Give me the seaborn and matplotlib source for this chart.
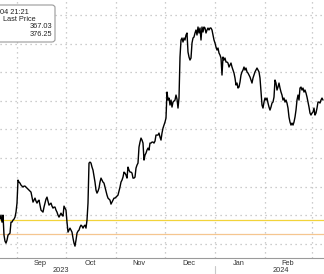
import matplotlib
matplotlib.use("Agg")
import matplotlib.pyplot as plt
import matplotlib.dates as mdates
from matplotlib.patches import FancyBboxPatch
import matplotlib.transforms as mtransforms
import numpy as np
import pandas as pd
import seaborn as sns

# ---- data ----
start_time = "2023-08-21 07:00"
step = "890min"
price = [
    377.2, 380.0, 375.1, 380.0, 366.0, 361.8, 360.4, 362.5, 366.0, 366.7,
    367.4, 375.1, 375.1, 376.5, 377.2, 378.6, 382.1, 388.4, 404.5, 403.1,
    402.4, 401.0, 400.3, 399.6, 400.3, 400.3, 399.6, 398.9, 398.2, 397.5,
    396.8, 396.1, 392.6, 389.1, 390.5, 391.9, 389.8, 388.4, 389.8, 390.5,
    387.0, 383.5, 382.8, 382.1, 385.6, 388.4, 391.2, 392.6, 389.8, 387.0,
    387.7, 388.4, 386.3, 384.9, 385.6, 385.6, 383.5, 382.1, 380.0, 378.6,
    380.0, 381.4, 380.0, 379.3, 386.3, 384.9, 383.5, 375.1, 368.1, 369.5,
    370.9, 369.5, 368.1, 363.9, 360.4, 358.3, 362.5, 367.4, 368.8, 369.5,
    371.6, 373.0, 372.3, 370.9, 372.3, 373.0, 370.9, 376.5, 388.4, 416.4,
    417.1, 416.4, 413.6, 411.5, 407.3, 403.1, 397.5, 395.4, 396.8, 398.9,
    403.1, 405.9, 404.5, 403.1, 402.4, 399.6, 396.8, 394.0, 391.9, 391.2,
    390.5, 387.7, 389.1, 390.5, 391.9, 391.9, 392.6, 393.3, 394.0, 396.8,
    399.6, 403.1, 404.5, 406.6, 410.1, 409.4, 408.0, 405.9, 413.6, 411.5,
    410.1, 410.1, 409.4, 405.9, 405.9, 406.6, 412.9, 415.0, 416.4, 427.6,
    431.1, 433.9, 432.5, 430.4, 418.5, 422.0, 423.4, 425.5, 426.9, 425.5,
    430.4, 430.4, 431.1, 431.1, 430.4, 431.8, 436.0, 436.0, 436.0, 437.4,
    434.6, 432.5, 437.4, 440.9, 443.0, 445.1, 447.9, 466.1, 460.5, 461.9,
    457.0, 460.5, 455.6, 459.1, 459.8, 460.5, 464.0, 461.2, 454.9, 461.9,
    490.6, 502.5, 503.9, 501.1, 503.9, 502.5, 506.0, 507.4, 494.1, 490.6,
    488.5, 489.9, 500.4, 503.9, 504.6, 507.4, 509.5, 506.0, 511.6, 507.4,
    510.9, 502.5, 511.6, 508.1, 511.6, 510.9, 507.4, 509.5, 510.9, 509.5,
    510.9, 510.9, 509.5, 506.0, 502.5, 500.4, 497.6, 495.5, 496.9, 493.4,
    492.0, 489.9, 478.0, 490.6, 488.5, 489.9, 487.1, 487.1, 486.4, 483.6,
    485.0, 486.4, 483.6, 481.5, 479.4, 475.9, 471.0, 472.4, 468.9, 469.6,
    473.1, 478.0, 480.2, 481.5, 483.6, 481.5, 482.9, 480.2, 479.4, 478.0,
    476.6, 474.5, 472.4, 475.9, 478.0, 480.2, 481.5, 482.9, 481.5, 480.2,
    475.9, 466.1, 457.0, 454.9, 459.1, 461.9, 460.5, 461.9, 458.4, 455.6,
    453.5, 455.6, 458.4, 459.1, 462.6, 474.5, 472.4, 467.5, 469.6, 472.4,
    468.9, 466.1, 464.0, 460.5, 461.9, 459.1, 460.5, 458.4, 454.9, 448.6,
    445.1, 443.0, 444.4, 443.0, 445.1, 448.6, 453.5, 460.5, 464.0, 460.5,
    468.9, 469.6, 467.5, 468.9, 466.1, 467.5, 465.4, 462.6, 459.1, 455.6,
    451.4, 450.0, 451.4, 452.1, 454.9, 450.0, 451.4, 454.9, 459.1, 459.1,
    458.4, 460.5, 461.9, 460.5,
]
ref_levels = [376.25, 367.03]
legend_values = ["367.03", "376.25"]
legend_time = "04 21:21"
legend_label = "Last Price"
month_starts = ["2023-09-01", "2023-10-01", "2023-11-01", "2023-12-01",
                "2024-01-01", "2024-02-01", "2024-03-01"]
month_label_dates = ["2023-09-15", "2023-10-16", "2023-11-15", "2023-12-16",
                     "2024-01-16", "2024-02-15"]
month_labels = ["Sep", "Oct", "Nov", "Dec", "Jan", "Feb"]
year_labels = ["2023", "2024"]
year_label_dates = ["2023-09-28", "2024-02-11"]
year_break = "2024-01-01"
y_grid = [360, 380, 400, 420, 440, 460, 480, 500, 520]
x_range = ["2023-08-21 07:00", "2024-03-08 13:00"]
y_range = [350, 530.5]

df = pd.DataFrame({
    "time": pd.date_range(start_time, periods=len(price), freq=step),
    "price": price,
})

sns.set_style("white")
plt.rcParams["font.family"] = ["Liberation Sans", "DejaVu Sans"]

fig = plt.figure(figsize=(3.24, 2.74), dpi=100)
ax = fig.add_axes([0, 1 - 258 / 274, 1, 258 / 274])

grid_kw = dict(color="#bdbdbd", lw=0.9, ls=(0, (1, 3)), zorder=0)
for g in y_grid:
    ax.axhline(g, **grid_kw)
for m in month_starts:
    ax.axvline(pd.Timestamp(m), **grid_kw)

ax.axhline(ref_levels[0], color="#f2d33a", lw=0.9, zorder=1)
ax.axhline(ref_levels[1], color="#f5c690", lw=0.9, zorder=1)

sns.lineplot(data=df, x="time", y="price", ax=ax, color="black",
             lw=1.0, zorder=3, legend=False)

ax.set_xlim(pd.Timestamp(x_range[0]), pd.Timestamp(x_range[1]))
ax.set_ylim(*y_range)
ax.set_xlabel("")
ax.set_ylabel("")
ax.set_yticks([])

for s in ["top", "left", "right"]:
    ax.spines[s].set_visible(False)
ax.spines["bottom"].set_color("#9a9a9a")
ax.spines["bottom"].set_linewidth(0.8)

ax.set_xticks([pd.Timestamp(d) for d in month_label_dates])
ax.set_xticklabels(month_labels, fontsize=5.3, color="#333333")
ax.tick_params(axis="x", which="major", length=0, pad=1.5)
ax.set_xticks([pd.Timestamp(d) for d in month_starts], minor=True)
ax.tick_params(axis="x", which="minor", length=2, width=0.8, color="#777777")

trans = mtransforms.blended_transform_factory(ax.transData, ax.transAxes)
for lab, d in zip(year_labels, year_label_dates):
    ax.text(pd.Timestamp(d), -0.05, lab, transform=trans, ha="center",
            va="center", fontsize=5.3, color="#333333", clip_on=False)
ax.plot([pd.Timestamp(year_break)] * 2, [-0.03, -0.065], transform=trans,
        color="#c8c8c8", lw=0.8, clip_on=False)

box = FancyBboxPatch((-0.03, 1 - 42 / 258), 0.03 + 55 / 324, 37 / 258,
                     boxstyle="round,pad=0,rounding_size=0.01",
                     transform=ax.transAxes, facecolor="white",
                     edgecolor="#9a9a9a", lw=0.8, zorder=5, clip_on=False)
ax.add_patch(box)
tk = dict(transform=ax.transAxes, fontsize=5.3, color="#222222", zorder=6,
          va="center")
ax.text(0.0, 1 - 12 / 258, legend_time, ha="left", **tk)
ax.text(3 / 324, 1 - 19.5 / 258, legend_label, ha="left", **tk)
ax.text(52 / 324, 1 - 27 / 258, legend_values[0], ha="right", **tk)
ax.text(52 / 324, 1 - 34 / 258, legend_values[1], ha="right", **tk)

fig.savefig("out.png", dpi=100)
